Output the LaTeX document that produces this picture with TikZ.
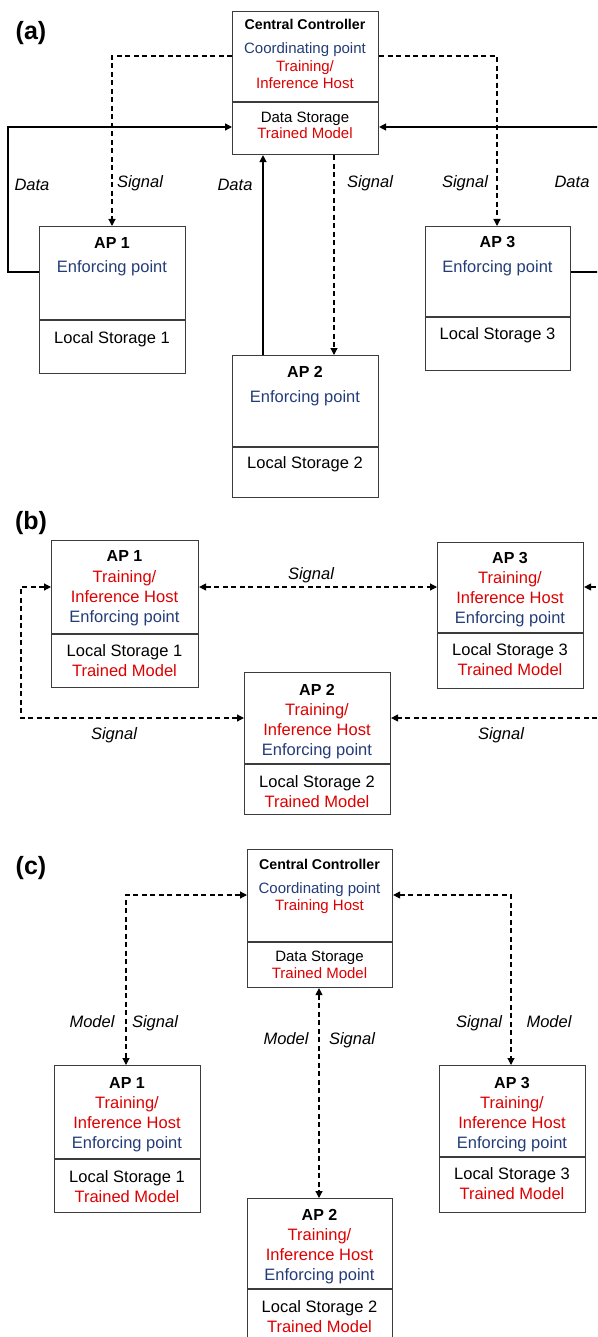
\documentclass[tikz,border=0pt]{standalone}
\usepackage{fontspec}
\setmainfont{Liberation Sans}
\usetikzlibrary{arrows.meta}
\definecolor{hostred}{RGB}{222,0,0}
\definecolor{pointblue}{RGB}{35,60,120}
\definecolor{frame}{RGB}{60,60,60}
\newcommand\txtline[5]{\node[txt,text=#4] (#1) at (#2,#3) {#5};}
\begin{document}
\begin{tikzpicture}[x=1pt,y=-1pt,
  box/.style={draw=frame,line width=1.1pt,inner sep=0pt,anchor=north west},
  txt/.style={anchor=base,inner sep=0pt,font=\fontsize{16.5}{18}\selectfont},
  cctxt/.style={anchor=base,inner sep=0pt,font=\fontsize{15}{17}\selectfont},
  ttl/.style={anchor=base,inner sep=0pt,font=\fontsize{14.2}{16}\selectfont\bfseries},
  aptl/.style={anchor=base,inner sep=0pt,font=\fontsize{16}{18}\selectfont\bfseries},
  lbl/.style={anchor=base,inner sep=0pt,font=\fontsize{16.5}{18}\selectfont\itshape},
  tag/.style={anchor=base,inner sep=0pt,font=\fontsize{25}{27}\selectfont\bfseries},
  tip/.style={-{Triangle[length=7pt,width=7pt]}},
  tips/.style={{Triangle[length=7pt,width=7pt]}-{Triangle[length=7pt,width=7pt]}},
  dataline/.style={line width=1.4pt,tip},
  sigline/.style={line width=1.2pt,dash pattern=on 5pt off 3.5pt},
]
\useasboundingbox (0,0) rectangle (597,1337);
\clip (0,0) rectangle (597,1337);

% ---------------- (a) ----------------
\node[tag] (tagA) at (31,40) {(a)};

\node[box,minimum width=146pt,minimum height=143pt] (cc) at (232,11) {};
\draw[frame,line width=1.1pt] (cc.west |- 0,102) -- (cc.east |- 0,102);
\node[ttl] (ccT) at (305,30) {Central Controller};
\node[cctxt,text=pointblue] (ccA) at (305,53.5) {Coordinating point};
\node[cctxt,text=hostred] (ccB) at (305,71.5) {Training/};
\node[cctxt,text=hostred] (ccC) at (305,88.5) {Inference Host};
\node[cctxt] (ccD) at (305,122.5) {Data Storage};
\node[cctxt,text=hostred] (ccE) at (305,138.5) {Trained Model};

\node[box,minimum width=146pt,minimum height=147pt] (a1) at (39,226) {};
\draw[frame,line width=1.1pt] (a1.west |- 0,320) -- (a1.east |- 0,320);
\node[aptl] (a1T) at (112,249) {AP 1};
\txtline{a1A}{112}{273}{pointblue}{Enforcing point}
\txtline{a1B}{112}{343}{black}{Local Storage 1}

\node[box,minimum width=146pt,minimum height=142pt] (a2) at (232,355) {};
\draw[frame,line width=1.1pt] (a2.west |- 0,447) -- (a2.east |- 0,447);
\node[aptl] (a2T) at (305,377) {AP 2};
\txtline{a2A}{305}{402}{pointblue}{Enforcing point}
\txtline{a2B}{305}{468}{black}{Local Storage 2}

\node[box,minimum width=145pt,minimum height=144pt] (a3) at (425,226) {};
\draw[frame,line width=1.1pt] (a3.west |- 0,317) -- (a3.east |- 0,317);
\node[aptl] (a3T) at (497.5,248) {AP 3};
\txtline{a3A}{497.5}{273}{pointblue}{Enforcing point}
\txtline{a3B}{497.5}{339}{black}{Local Storage 3}

% signals from the controller
\draw[sigline,tip] (cc.west |- 0,56) -| (a1.north -| 112,0);
\draw[sigline,tip] (cc.east |- 0,56) -| (a3.north -| 497,0);
\draw[sigline,tip] (cc.south -| 334,0) -- (a2.north -| 334,0);
% data towards the controller
\draw[dataline] (a1.west |- 0,272) -| (8,127) -- (cc.west |- 0,127);
\draw[dataline] (a2.north -| 263,0) -- (cc.south -| 263,0);
\draw[dataline] (a3.east |- 0,272) -| (605,127) -- (cc.east |- 0,127);

\node[lbl] (aL1) at (32,191) {Data};
\node[lbl] (aL2) at (140,188) {Signal};
\node[lbl] (aL3) at (235,191) {Data};
\node[lbl] (aL4) at (370,188) {Signal};
\node[lbl] (aL5) at (465,188) {Signal};
\node[lbl] (aL6) at (572,188) {Data};

% ---------------- (b) ----------------
\node[tag] (tagB) at (31,529) {(b)};

\node[box,minimum width=147pt,minimum height=147pt] (b1) at (51,540) {};
\draw[frame,line width=1.1pt] (b1.west |- 0,634) -- (b1.east |- 0,634);
\node[aptl] (b1T) at (124.5,561) {AP 1};
\txtline{b1A}{124.5}{582}{hostred}{Training/}
\txtline{b1B}{124.5}{602}{hostred}{Inference Host}
\txtline{b1C}{124.5}{622}{pointblue}{Enforcing point}
\txtline{b1D}{124.5}{656}{black}{Local Storage 1}
\txtline{b1E}{124.5}{676}{hostred}{Trained Model}

\node[box,minimum width=146pt,minimum height=142pt] (b2) at (244,672) {};
\draw[frame,line width=1.1pt] (b2.west |- 0,764) -- (b2.east |- 0,764);
\node[aptl] (b2T) at (317,695) {AP 2};
\txtline{b2A}{317}{715}{hostred}{Training/}
\txtline{b2B}{317}{735}{hostred}{Inference Host}
\txtline{b2C}{317}{755}{pointblue}{Enforcing point}
\txtline{b2D}{317}{787}{black}{Local Storage 2}
\txtline{b2E}{317}{807}{hostred}{Trained Model}

\node[box,minimum width=146pt,minimum height=146pt] (b3) at (437,542) {};
\draw[frame,line width=1.1pt] (b3.west |- 0,633) -- (b3.east |- 0,633);
\node[aptl] (b3T) at (510,563) {AP 3};
\txtline{b3A}{510}{583}{hostred}{Training/}
\txtline{b3B}{510}{603}{hostred}{Inference Host}
\txtline{b3C}{510}{623}{pointblue}{Enforcing point}
\txtline{b3D}{510}{655}{black}{Local Storage 3}
\txtline{b3E}{510}{675}{hostred}{Trained Model}

\draw[sigline,tips] (b1.east |- 0,587) -- (b3.west |- 0,587);
\draw[sigline,tips] (b1.west |- 0,587) -| (21,718) -- (b2.west |- 0,718);
\draw[sigline,tips] (b3.east |- 0,587) -| (605,718) -- (b2.east |- 0,718);

\node[lbl] (bL1) at (311,579) {Signal};
\node[lbl] (bL2) at (114,739) {Signal};
\node[lbl] (bL3) at (501,739) {Signal};

% ---------------- (c) ----------------
\node[tag] (tagC) at (31,874) {(c)};

\node[box,minimum width=145pt,minimum height=138pt] (c0) at (247,849) {};
\draw[frame,line width=1.1pt] (c0.west |- 0,942) -- (c0.east |- 0,942);
\node[ttl] (c0T) at (319.5,869) {Central Controller};
\node[cctxt,text=pointblue] (c0A) at (319.5,893.5) {Coordinating point};
\node[cctxt,text=hostred] (c0B) at (319.5,910.5) {Training Host};
\node[cctxt] (c0C) at (319.5,961.5) {Data Storage};
\node[cctxt,text=hostred] (c0D) at (319.5,978.5) {Trained Model};

\node[box,minimum width=146pt,minimum height=147pt] (c1) at (54,1065) {};
\draw[frame,line width=1.1pt] (c1.west |- 0,1159) -- (c1.east |- 0,1159);
\node[aptl] (c1T) at (127,1088) {AP 1};
\txtline{c1A}{127}{1108}{hostred}{Training/}
\txtline{c1B}{127}{1128}{hostred}{Inference Host}
\txtline{c1C}{127}{1148}{pointblue}{Enforcing point}
\txtline{c1D}{127}{1182}{black}{Local Storage 1}
\txtline{c1E}{127}{1202}{hostred}{Trained Model}

\node[box,minimum width=145pt,minimum height=150pt] (c2) at (247,1198) {};
\draw[frame,line width=1.1pt] (c2.west |- 0,1289) -- (c2.east |- 0,1289);
\node[aptl] (c2T) at (319.5,1220) {AP 2};
\txtline{c2A}{319.5}{1240}{hostred}{Training/}
\txtline{c2B}{319.5}{1260}{hostred}{Inference Host}
\txtline{c2C}{319.5}{1280}{pointblue}{Enforcing point}
\txtline{c2D}{319.5}{1312}{black}{Local Storage 2}
\txtline{c2E}{319.5}{1332}{hostred}{Trained Model}

\node[box,minimum width=146pt,minimum height=147pt] (c3) at (439,1065) {};
\draw[frame,line width=1.1pt] (c3.west |- 0,1157) -- (c3.east |- 0,1157);
\node[aptl] (c3T) at (512,1088) {AP 3};
\txtline{c3A}{512}{1108}{hostred}{Training/}
\txtline{c3B}{512}{1128}{hostred}{Inference Host}
\txtline{c3C}{512}{1148}{pointblue}{Enforcing point}
\txtline{c3D}{512}{1179}{black}{Local Storage 3}
\txtline{c3E}{512}{1199}{hostred}{Trained Model}

\draw[sigline,tips] (c0.west |- 0,895) -| (c1.north -| 126,0);
\draw[sigline,tips] (c0.east |- 0,895) -| (c3.north -| 511,0);
\draw[sigline,tips] (c0.south -| 319,0) -- (c2.north -| 319,0);

\node[lbl] (cL1) at (92,1027) {Model};
\node[lbl] (cL2) at (155,1027) {Signal};
\node[lbl] (cL3) at (286,1044) {Model};
\node[lbl] (cL4) at (352,1044) {Signal};
\node[lbl] (cL5) at (479,1027) {Signal};
\node[lbl] (cL6) at (549,1027) {Model};
\end{tikzpicture}
\end{document}
